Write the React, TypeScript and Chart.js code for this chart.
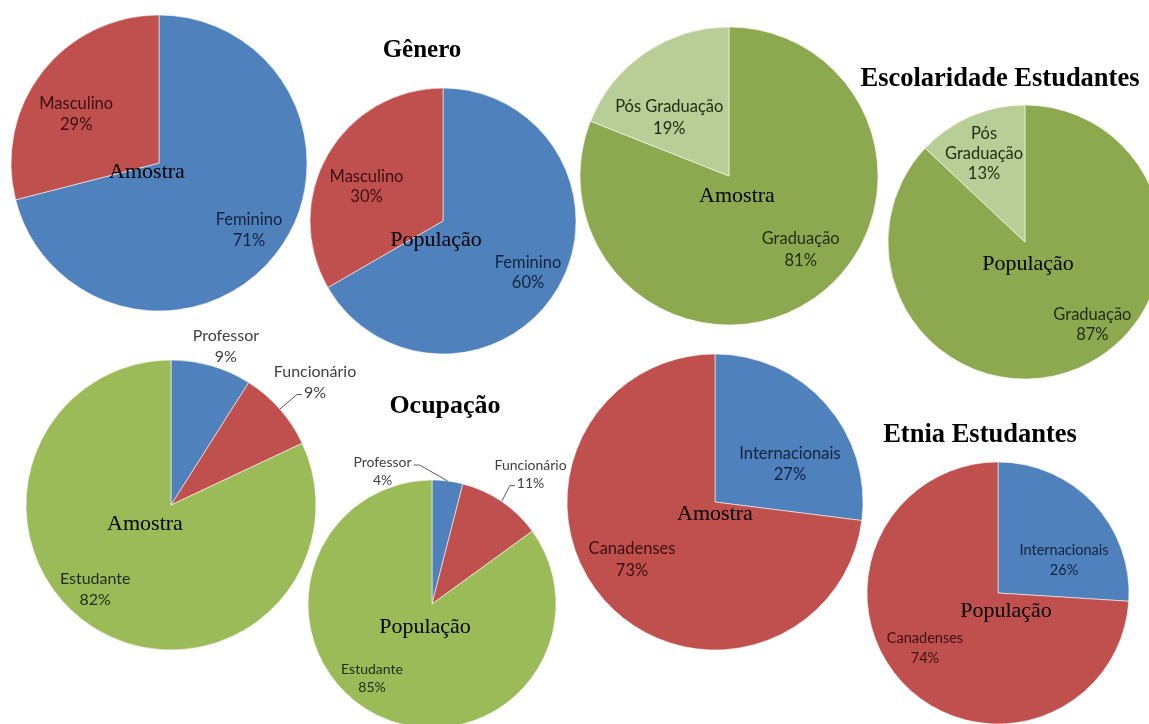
import React, { useEffect, useRef } from "react";
import { Chart, registerables } from "chart.js";

Chart.register(...registerables);

// Slice colours
const BLUE = "#4F81BD";
const RED = "#C0504D";
const GREEN = "#9BBB59";
const OLIVE = "#8DA94F";
const PALE = "#B9CD96";

// Label ink
const INK_BLUE = "#13243D";
const INK_RED = "#3A1010";
const INK_GREEN = "#1F2B10";
const INK_OUT = "#3F3F3F";

// Gênero
const generoCategorias = ["Feminino", "Masculino"];
const generoAmostra = [71, 29];
const generoPopulacao = [60, 30];

// Escolaridade Estudantes
const escolaridadeCategorias = ["Graduação", "Pós Graduação"];
const escolaridadeAmostra = [81, 19];
const escolaridadePopulacao = [87, 13];

// Ocupação
const ocupacaoCategorias = ["Professor", "Funcionário", "Estudante"];
const ocupacaoAmostra = [9, 9, 82];
const ocupacaoPopulacao = [4, 11, 85];

// Etnia Estudantes
const etniaCategorias = ["Internacionais", "Canadenses"];
const etniaAmostra = [27, 73];
const etniaPopulacao = [26, 74];

const grupos = ["Amostra", "População"];
const titulos = ["Gênero", "Escolaridade Estudantes", "Ocupação", "Etnia Estudantes"];

type SliceLabel = {
  f: number; // distance from centre, as a share of the radius
  da: number; // angular nudge from the slice's middle, degrees
  color: string;
  leader?: "left2" | "right1";
  wrap?: boolean;
};

type PieSpec = {
  labels: string[];
  values: number[];
  colors: string[];
  group: string;
  cx: number;
  cy: number;
  r: number;
  centerDx: number;
  centerDy: number;
  fontSize: number;
  lineH: number;
  slices: SliceLabel[];
};

const PAD = 100;

const pies: PieSpec[] = [
  {
    labels: generoCategorias, values: generoAmostra, colors: [BLUE, RED], group: grupos[0],
    cx: 159, cy: 163, r: 148, centerDx: -12, centerDy: 15, fontSize: 16.5, lineH: 21,
    slices: [
      { f: 0.76, da: -0.9, color: INK_BLUE },
      { f: 0.65, da: -7.2, color: INK_RED },
    ],
  },
  {
    labels: generoCategorias, values: generoPopulacao, colors: [BLUE, RED], group: grupos[1],
    cx: 443, cy: 221, r: 133, centerDx: -7, centerDy: 25, fontSize: 16.5, lineH: 20,
    slices: [
      { f: 0.75, da: 1.5, color: INK_BLUE },
      { f: 0.63, da: -5.9, color: INK_RED },
    ],
  },
  {
    labels: escolaridadeCategorias, values: escolaridadeAmostra, colors: [OLIVE, PALE], group: grupos[0],
    cx: 729, cy: 176, r: 149, centerDx: 8, centerDy: 26, fontSize: 16.5, lineH: 21.5,
    slices: [
      { f: 0.69, da: -10, color: INK_GREEN },
      { f: 0.56, da: -11.5, color: INK_GREEN },
    ],
  },
  {
    labels: escolaridadeCategorias, values: escolaridadePopulacao, colors: [OLIVE, PALE], group: grupos[1],
    cx: 1025, cy: 242, r: 137, centerDx: 3, centerDy: 28, fontSize: 16.5, lineH: 20,
    slices: [
      { f: 0.78, da: -15.7, color: INK_GREEN },
      { f: 0.71, da: -1.5, color: INK_GREEN, wrap: true },
    ],
  },
  {
    labels: ocupacaoCategorias, values: ocupacaoAmostra, colors: [BLUE, RED, GREEN], group: grupos[0],
    cx: 171, cy: 505, r: 145, centerDx: -26, centerDy: 25, fontSize: 16, lineH: 21,
    slices: [
      { f: 1.157, da: 2.9, color: INK_OUT },
      { f: 1.306, da: 0.9, color: INK_OUT, leader: "left2" },
      { f: 0.78, da: 9.7, color: INK_GREEN },
    ],
  },
  {
    labels: ocupacaoCategorias, values: ocupacaoPopulacao, colors: [BLUE, RED, GREEN], group: grupos[1],
    cx: 432, cy: 604, r: 124, centerDx: -7, centerDy: 29, fontSize: 14, lineH: 18,
    slices: [
      { f: 1.144, da: -27.6, color: INK_OUT, leader: "right1" },
      { f: 1.312, da: 3.1, color: INK_OUT, leader: "left2" },
      { f: 0.774, da: 11.7, color: INK_GREEN },
    ],
  },
  {
    labels: etniaCategorias, values: etniaAmostra, colors: [BLUE, RED], group: grupos[0],
    cx: 715, cy: 502, r: 148, centerDx: 0, centerDy: 18, fontSize: 16.5, lineH: 21.5,
    slices: [
      { f: 0.568, da: 14.5, color: INK_BLUE },
      { f: 0.682, da: 6.7, color: INK_RED },
    ],
  },
  {
    labels: etniaCategorias, values: etniaPopulacao, colors: [BLUE, RED], group: grupos[1],
    cx: 998, cy: 593, r: 131, centerDx: 8, centerDy: 24, fontSize: 14.5, lineH: 19.5,
    slices: [
      { f: 0.562, da: 17, color: INK_BLUE },
      { f: 0.7, da: 6, color: INK_RED },
    ],
  },
];

// Title placement: centre x, text baseline and size
const titleLayout = [
  { x: 422, base: 58, size: 25 },
  { x: 1000, base: 87, size: 26.5 },
  { x: 445, base: 415, size: 26 },
  { x: 980, base: 443, size: 26.5 },
];

function makeLabelPlugin(spec: PieSpec) {
  return {
    id: "sliceLabels",
    afterDatasetsDraw(chart: Chart) {
      const ctx = chart.ctx;
      const meta = chart.getDatasetMeta(0);
      ctx.save();
      let cx0 = 0;
      let cy0 = 0;
      meta.data.forEach((el: any, i: number) => {
        const { x, y, startAngle, endAngle, outerRadius } = el.getProps(
          ["x", "y", "startAngle", "endAngle", "outerRadius"],
          true
        );
        cx0 = x;
        cy0 = y;
        const s = spec.slices[i];
        const mid = (startAngle + endAngle) / 2;
        const a = mid + (s.da * Math.PI) / 180;
        const bx = x + Math.cos(a) * s.f * outerRadius;
        const by = y + Math.sin(a) * s.f * outerRadius;
        const name = spec.labels[i];
        const lines = [...(s.wrap ? name.split(" ") : [name]), `${spec.values[i]}%`];
        ctx.font = `${spec.fontSize}px Lato`;
        ctx.textAlign = "center";
        ctx.textBaseline = "middle";
        ctx.fillStyle = s.color;
        const top = by - ((lines.length - 1) / 2) * spec.lineH;
        lines.forEach((t, k) => ctx.fillText(t, bx, top + k * spec.lineH));

        if (s.leader) {
          const ex = x + Math.cos(mid) * outerRadius;
          const ey = y + Math.sin(mid) * outerRadius;
          let ax: number;
          let ay: number;
          let kx: number;
          if (s.leader === "left2") {
            const w = ctx.measureText(lines[1]).width;
            ax = bx - w / 2 - 2;
            ay = top + spec.lineH + 2;
            kx = ax - 5;
          } else {
            const w = ctx.measureText(lines[0]).width;
            ax = bx + w / 2 + 2;
            ay = top + 3;
            kx = ax + 6;
          }
          ctx.strokeStyle = "#5A5A5A";
          ctx.lineWidth = 1;
          ctx.beginPath();
          ctx.moveTo(ax, ay);
          ctx.lineTo(kx, ay);
          ctx.lineTo(ex, ey);
          ctx.stroke();
        }
      });
      ctx.font = "22px 'Liberation Serif'";
      ctx.textAlign = "center";
      ctx.textBaseline = "alphabetic";
      ctx.fillStyle = "#000";
      ctx.fillText(spec.group, cx0 + spec.centerDx, cy0 + spec.centerDy);
      ctx.restore();
    },
  };
}

function Pie({ spec }: { spec: PieSpec }) {
  const ref = useRef<HTMLCanvasElement>(null);
  const size = 2 * (spec.r + PAD);
  useEffect(() => {
    const chart = new Chart(ref.current as HTMLCanvasElement, {
      type: "pie",
      data: {
        labels: spec.labels,
        datasets: [
          {
            data: spec.values,
            backgroundColor: spec.colors,
            borderColor: "rgba(255,255,255,0.55)",
            borderWidth: 1,
            radius: spec.r,
          } as any,
        ],
      },
      options: {
        responsive: false,
        animation: false,
        events: [],
        layout: { padding: 0 },
        plugins: { legend: { display: false }, tooltip: { enabled: false } },
      },
      plugins: [makeLabelPlugin(spec)],
    });
    return () => chart.destroy();
  }, [spec]);
  return (
    <canvas
      ref={ref}
      width={size}
      height={size}
      style={{
        position: "absolute",
        left: spec.cx - spec.r - PAD,
        top: spec.cy - spec.r - PAD,
        width: size,
        height: size,
      }}
    />
  );
}

export default function App() {
  return (
    <div
      style={{
        position: "fixed",
        left: 0,
        top: 0,
        width: 1149,
        height: 724,
        overflow: "hidden",
        background: "#fff",
      }}
    >
      {pies.map((p, i) => (
        <Pie key={i} spec={p} />
      ))}
      {titulos.map((t, i) => (
        <div
          key={t}
          style={{
            position: "absolute",
            left: titleLayout[i].x,
            top: titleLayout[i].base - titleLayout[i].size * 0.88,
            transform: "translateX(-50%)",
            whiteSpace: "nowrap",
            fontFamily: "'Liberation Serif', serif",
            fontWeight: "bold",
            fontSize: titleLayout[i].size,
            lineHeight: `${titleLayout[i].size}px`,
            color: "#000",
          }}
        >
          {t}
        </div>
      ))}
    </div>
  );
}
